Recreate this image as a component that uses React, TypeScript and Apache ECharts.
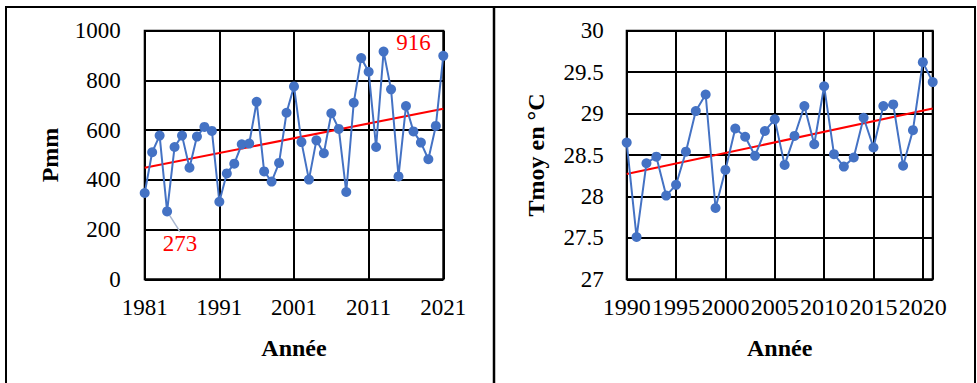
import React, { useEffect, useRef } from "react";
import * as echarts from "echarts";

// ---- Data ----
const precipStartYear = 1981;
const precipEndYear = 2021;
const precipValues = [
  347, 511, 578, 273, 532, 578, 449, 574, 613, 597,
  312, 426, 465, 543, 546, 714, 434, 393, 468, 670,
  776, 552, 401, 559, 507, 668, 605, 351, 710, 890,
  835, 532, 916, 764, 414, 697, 595, 550, 483, 617,
  899,
];
const precipTrend = [449, 686]; // values at 1981 and 2021
const precipAnnotated = [3, 32]; // indexes of labelled points (273, 916)

const tempStartYear = 1990;
const tempEndYear = 2021;
const tempValues = [
  28.65, 27.51, 28.4, 28.48, 28.01, 28.14, 28.54, 29.03, 29.23, 27.86,
  28.32, 28.82, 28.72, 28.49, 28.79, 28.93, 28.38, 28.73, 29.09, 28.63,
  29.33, 28.51, 28.36, 28.47, 28.95, 28.59, 29.09, 29.11, 28.37, 28.8,
  29.62, 29.38,
];
const tempTrend = [28.27, 29.06]; // values at 1990 and 2021

const FONT = "Liberation Serif";
const BLUE = "#4472C4";
const RED = "#FF0000";

export default function App() {
  const ref = useRef<HTMLDivElement>(null);

  useEffect(() => {
    document.body.style.margin = "0";
    if (!ref.current) return;
    const chart = echarts.init(ref.current, undefined, { renderer: "svg" });

    const span = precipEndYear - precipStartYear;
    const precipData = precipValues.map((v, i) => {
      if (precipAnnotated.includes(i)) {
        return {
          value: [i, v],
          label: {
            show: true,
            position: "inside",
            formatter: String(v),
            color: RED,
            fontSize: 23,
            fontFamily: FONT,
          },
          labelLine: {
            show: i === precipAnnotated[0],
            lineStyle: { color: "#A9B7D0", width: 1.5 },
          },
        };
      }
      return [i, v];
    });

    const splitLine = { show: true, lineStyle: { color: "#000", width: 2 } };
    const axisLabel = { color: "#000", fontSize: 23, fontFamily: FONT, fontWeight: "normal" as const };
    const nameStyle = { color: "#000", fontSize: 24, fontWeight: "bold" as const, fontFamily: FONT };

    chart.setOption({
      animation: false,
      backgroundColor: "#fff",
      textStyle: { fontFamily: FONT },
      grid: [
        { left: 144.7, top: 30.7, width: 298.6, height: 248.6, show: true, borderColor: "#000", borderWidth: 2 },
        { left: 626.7, top: 30.7, width: 306, height: 248.6, show: true, borderColor: "#000", borderWidth: 2 },
      ],
      xAxis: [
        {
          type: "value", gridIndex: 0, min: 0, max: span, interval: 10,
          axisLine: { show: false }, axisTick: { show: false }, splitLine,
          axisLabel: { ...axisLabel, margin: 17, formatter: (v: number) => String(precipStartYear + v) },
          name: "Année", nameLocation: "middle", nameGap: 57, nameTextStyle: nameStyle,
        },
        {
          type: "value", gridIndex: 1, min: tempStartYear, max: tempEndYear, interval: 5,
          axisLine: { show: false }, axisTick: { show: false }, splitLine,
          axisLabel: { ...axisLabel, fontSize: 24, margin: 16, formatter: (v: number) => (v === tempEndYear ? "" : String(v)) },
          name: "Année", nameLocation: "middle", nameGap: 57, nameTextStyle: nameStyle,
        },
      ],
      yAxis: [
        {
          type: "value", gridIndex: 0, min: 0, max: 1000, interval: 200,
          axisLine: { show: false }, axisTick: { show: false }, splitLine,
          axisLabel: { ...axisLabel, margin: 24, formatter: (v: number) => String(v) },
          name: "Pmm", nameLocation: "middle", nameGap: 83, nameTextStyle: nameStyle,
        },
        {
          type: "value", gridIndex: 1, min: 27, max: 30, interval: 0.5,
          axisLine: { show: false }, axisTick: { show: false }, splitLine,
          axisLabel: { ...axisLabel, margin: 23, formatter: (v: number) => String(v) },
          name: "Tmoy en °C", nameLocation: "middle", nameGap: 79, nameTextStyle: nameStyle,
        },
      ],
      series: [
        {
          type: "line", xAxisIndex: 0, yAxisIndex: 0, symbol: "none", z: 2,
          data: [[0, precipTrend[0]], [span, precipTrend[1]]],
          lineStyle: { color: RED, width: 2 },
        },
        {
          type: "line", xAxisIndex: 0, yAxisIndex: 0, z: 3,
          data: precipData,
          symbol: "circle", symbolSize: 10,
          itemStyle: { color: BLUE },
          lineStyle: { color: BLUE, width: 2 },
          labelLayout: (p: any) => {
            if (p.dataIndex === precipAnnotated[0]) return { dx: 13, dy: 32 };
            if (p.dataIndex === precipAnnotated[1]) return { dx: 30, dy: -9 };
            return {};
          },
        },
        {
          type: "line", xAxisIndex: 1, yAxisIndex: 1, symbol: "none", z: 2,
          data: [[tempStartYear, tempTrend[0]], [tempEndYear, tempTrend[1]]],
          lineStyle: { color: RED, width: 2 },
        },
        {
          type: "line", xAxisIndex: 1, yAxisIndex: 1, z: 3,
          data: tempValues.map((v, i) => [tempStartYear + i, v]),
          symbol: "circle", symbolSize: 10,
          itemStyle: { color: BLUE },
          lineStyle: { color: BLUE, width: 2 },
        },
      ],
      graphic: [
        {
          type: "rect", silent: true,
          shape: { x: 6, y: 7, width: 969, height: 420 },
          style: { fill: "none", stroke: "#000", lineWidth: 2 },
        },
        {
          type: "line", silent: true,
          shape: { x1: 494, y1: 7, x2: 494, y2: 383 },
          style: { stroke: "#000", lineWidth: 2.5 },
        },
      ],
    });

    return () => chart.dispose();
  }, []);

  return <div ref={ref} style={{ width: 977, height: 383 }} />;
}
